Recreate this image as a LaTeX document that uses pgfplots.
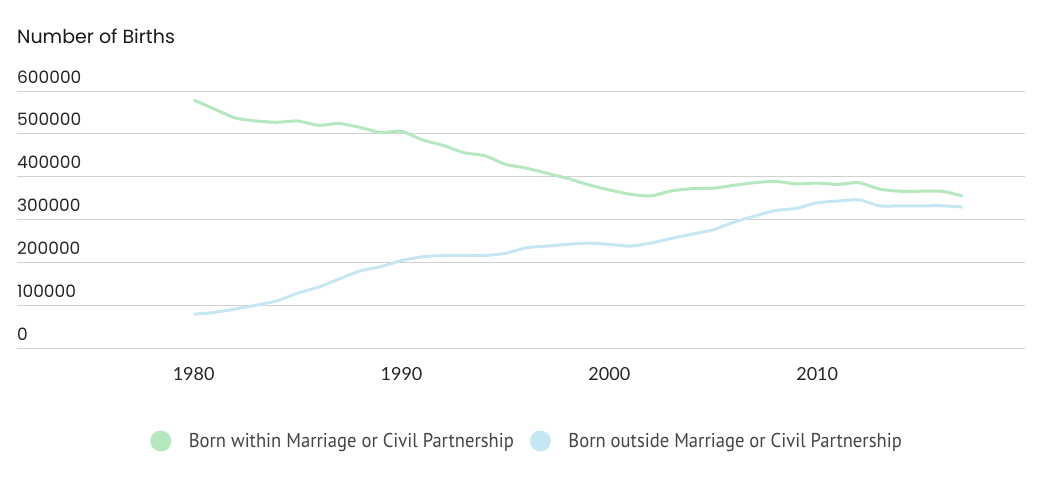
\documentclass[border=0pt]{standalone}
\usepackage{fontspec}
\setmainfont{Lato}
\newfontfamily\titlefont{Poppins}
\newfontfamily\legendfont{PT Sans}[FakeStretch=0.93]
\usepackage{pgfplots}
\pgfplotsset{compat=1.18}

\definecolor{greenline}{RGB}{181,232,190}
\definecolor{blueline}{RGB}{197,231,243}
\definecolor{gridgray}{RGB}{208,208,208}
\definecolor{textgray}{RGB}{68,68,68}

\begin{document}
\begin{tikzpicture}
\useasboundingbox (-17pt,-129pt) rectangle (1039pt,348pt);

\begin{axis}[
	at={(0,0)}, anchor=south west,
	scale only axis,
	width=1008pt, height=257pt,
	xmin=1971.5, xmax=2020,
	ymin=0, ymax=600000,
	axis line style={draw=none},
	ymajorgrids,
	grid style={gridgray, line width=1pt},
	major tick length=0pt,
	xtick={1980,1990,2000,2010},
	ytick={0,100000,200000,300000,400000,500000,600000},
	scaled y ticks=false,
	/pgf/number format/fixed,
	/pgf/number format/precision=0,
	/pgf/number format/assume math mode=true,
	/pgf/number format/1000 sep={},
	x tick label style={font=\fontsize{18}{20}\selectfont, text=black!85, anchor=north, yshift=-16pt},
	y tick label style={font=\titlefont\fontsize{17}{20}\selectfont, text=black!85, anchor=base west, inner xsep=0pt, yshift=8pt},
	xticklabel pos=lower,
	yticklabel pos=left,
	legend columns=2,
	legend style={
		draw=none, fill=none,
		at={(0.506,-0.362)}, anchor=center,
		font=\legendfont\fontsize{20}{22}\selectfont,
		text=textgray,
		/tikz/every even column/.append style={column sep=14pt}
	},
	legend image code/.code={\fill[draw=none] (0pt,0pt) circle (10.5pt); \path[draw=none] (10pt,0pt) -- (26pt,0pt);},
	clip=false
]
\addplot [greenline, line width=3pt, smooth, tension=0.4]
table {%
1980 579000
1981 558000
1982 537000
1983 530000
1984 527000
1985 530000
1986 520000
1987 524000
1988 515000
1989 503000
1990 506000
1991 486000
1992 473000
1993 456000
1994 449000
1995 429000
1996 420000
1997 408000
1998 396000
1999 381000
2000 369000
2001 359000
2002 355000
2003 367000
2004 372000
2005 373000
2006 380000
2007 386000
2008 389000
2009 383000
2010 385000
2011 382000
2012 386000
2013 371000
2014 366000
2015 366000
2016 366000
2017 355000
};
\addlegendentry{Born within Marriage or Civil Partnership}
\addplot [blueline, line width=3pt, smooth, tension=0.4]
table {%
1980 79000
1981 83000
1982 91000
1983 100000
1984 110000
1985 128000
1986 142000
1987 161000
1988 180000
1989 190000
1990 204000
1991 213000
1992 216000
1993 216000
1994 216000
1995 221000
1996 234000
1997 238000
1998 242000
1999 245000
2000 242000
2001 238000
2002 245000
2003 256000
2004 266000
2005 276000
2006 294000
2007 308000
2008 321000
2009 326000
2010 339000
2011 343000
2012 346000
2013 332000
2014 332000
2015 332000
2016 332000
2017 329000
};
\addlegendentry{Born outside Marriage or Civil Partnership}
\end{axis}

\node[anchor=base west, inner sep=0pt, font=\titlefont\fontsize{19}{21}\selectfont, text=black!90] at (0pt,304pt) {Number of Births};
\end{tikzpicture}
\end{document}
